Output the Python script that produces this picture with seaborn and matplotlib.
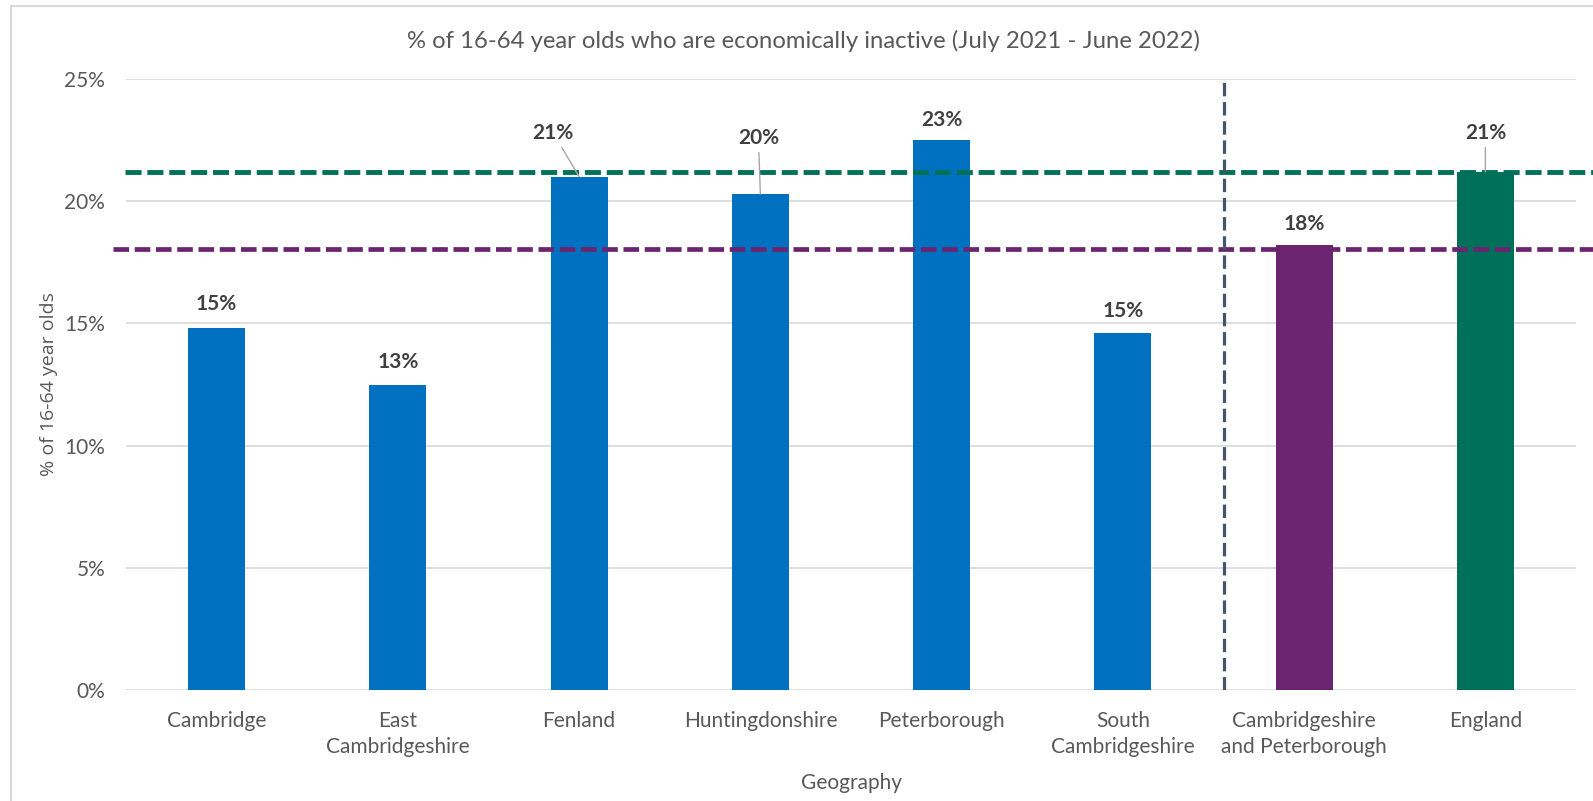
import matplotlib
matplotlib.use("Agg")
import matplotlib.pyplot as plt
import seaborn as sns
import pandas as pd
import math
from matplotlib.patches import Rectangle

# ---- data ----
categories = ["Cambridge", "East\nCambridgeshire", "Fenland", "Huntingdonshire",
              "Peterborough", "South\nCambridgeshire", "Cambridgeshire\nand Peterborough",
              "England"]
values = [14.8, 12.5, 21.0, 20.3, 22.5, 14.6, 18.2, 21.2]
england_ref = 21.2
cambs_pboro_ref = 18.05
yticks = [0, 5, 10, 15, 20, 25]
title = "% of 16-64 year olds who are economically inactive (July 2021 - June 2022)"
ylabel = "% of 16-64 year olds"
xlabel = "Geography"

# ---- styles ----
BLUE = "#0070C0"
PURPLE = "#6B2570"
GREEN = "#00705A"
SLATE = "#44546A"
colors = [BLUE] * 6 + [PURPLE, GREEN]
TEXT = "#595959"
LABEL = "#404040"

sns.set_style("white")
plt.rcParams["font.family"] = ["Lato", "DejaVu Sans"]

W, H = 1593, 801
fig = plt.figure(figsize=(W / 100, H / 100), dpi=100)
ax = fig.add_axes([126 / W, 1 - 690 / H, 1450 / W, 611 / H])

df = pd.DataFrame({"cat": categories, "val": values})
sns.barplot(data=df, x="cat", y="val", hue="cat", palette=colors, legend=False,
            width=0.314, saturation=1, linewidth=0, ax=ax, zorder=3)

ax.set_xlim(-0.5, len(categories) - 0.5)
ax.set_ylim(0, 25)
ax.set_yticks(yticks)
ax.set_yticklabels([f"{t}%" for t in yticks])
for s in ax.spines.values():
    s.set_visible(False)
ax.yaxis.grid(True, color="#D9D9D9", lw=1.2, zorder=0)
ax.set_axisbelow(True)
ax.tick_params(axis="both", length=0, labelsize=15, colors=TEXT)
ax.tick_params(axis="y", pad=15)
ax.tick_params(axis="x", pad=15)
for lab in ax.get_xticklabels():
    lab.set_linespacing(1.4)

ax.set_xlabel(xlabel, fontsize=15, color=TEXT, labelpad=11)
ax.set_ylabel(ylabel, fontsize=14, color=TEXT, labelpad=4.5, family=["Open Sans", "DejaVu Sans"])
fig.text(803 / W, 1 - 41 / H, title, ha="center", va="center", fontsize=17.2, color=TEXT)

# reference lines
ax.axhline(england_ref, xmin=(125 - 126) / 1450, xmax=(1593 - 126) / 1450, color=GREEN,
           lw=3.5, dashes=(3.3, 1.2), clip_on=False, zorder=4)
ax.axhline(cambs_pboro_ref, xmin=(113 - 126) / 1450, xmax=(1593 - 126) / 1450, color=PURPLE,
           lw=3.4, dashes=(3.3, 1.2), clip_on=False, zorder=4)
ax.axvline(5.56, ymin=0, ymax=1, color=SLATE, lw=2.3, dashes=(4.2, 1.8), zorder=4)

# data labels (offset in pixels)
offsets = [(0, 24), (0, 22), (-26, 44), (-2, 56), (0, 20), (0, 22), (0, 21), (0, 39)]
leader = [False, False, True, True, False, False, False, True]
for i, (v, off, ld) in enumerate(zip(values, offsets, leader)):
    txt = f"{math.floor(v + 0.5)}%"
    kw = dict(arrowprops=dict(arrowstyle="-", color="#A6A6A6", lw=1.0,
                              shrinkA=1, shrinkB=0)) if ld else {}
    ax.annotate(txt, xy=(i, v), xytext=off, textcoords="offset pixels",
                ha="center", va="center", fontsize=15, fontweight="bold",
                color=LABEL, zorder=5, **kw)

# chart border (top and left visible)
fig.patches.append(Rectangle((11 / W, -0.05), 1.2, 1 - 6 / H + 0.05,
                             transform=fig.transFigure, fill=False,
                             edgecolor="#D9D9D9", lw=1.5, zorder=0))

fig.savefig("out.png", dpi=100, facecolor="white")
